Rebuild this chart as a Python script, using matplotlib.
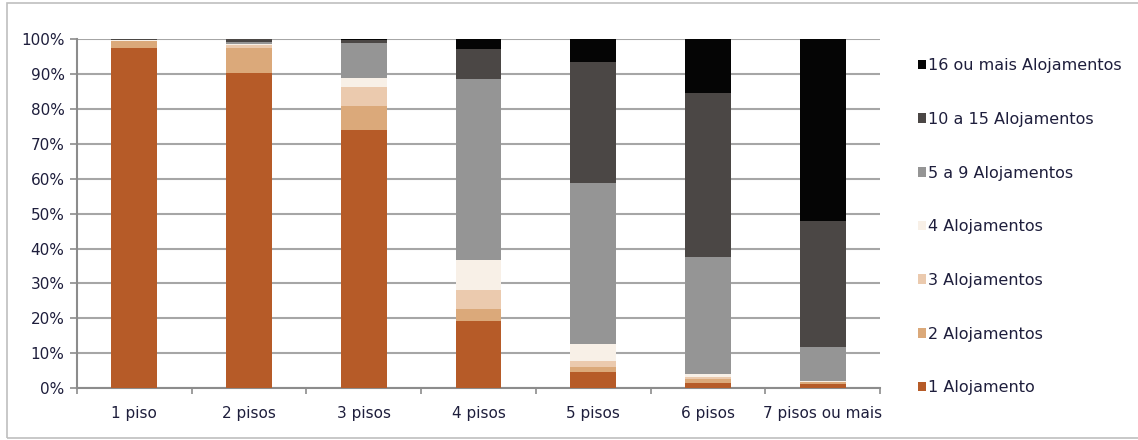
import matplotlib
matplotlib.use("Agg")
import matplotlib.pyplot as plt
import numpy as np
from matplotlib.patches import Rectangle

# share of buildings by number of dwellings, per number of floors (%)
pisos = ["1 piso", "2 pisos", "3 pisos", "4 pisos", "5 pisos", "6 pisos", "7 pisos ou mais"]
series = ["1 Alojamento", "2 Alojamentos", "3 Alojamentos", "4 Alojamentos",
          "5 a 9 Alojamentos", "10 a 15 Alojamentos", "16 ou mais Alojamentos"]

aloj_1 = [97.4, 90.3, 73.9, 19.3, 4.7, 1.5, 1.2]
aloj_2 = [2.0, 7.3, 7.0, 3.3, 1.2, 1.0, 0.4]
aloj_3 = [0.2, 0.6, 5.3, 5.5, 1.8, 0.6, 0.2]
aloj_4 = [0.1, 0.5, 2.7, 8.6, 4.8, 0.8, 0.3]
aloj_5a9 = [0.1, 0.5, 9.9, 51.8, 46.3, 33.7, 9.7]
aloj_10a15 = [0.2, 0.8, 0.9, 8.8, 34.7, 47.0, 36.1]
aloj_16 = [0.0, 0.0, 0.3, 2.7, 6.5, 15.4, 52.1]

cores = ["#B65B28", "#DBA97A", "#EBCAAE", "#F8F0E7", "#959595", "#4B4745", "#050505"]
texto = "#1E1E3C"

dados = [aloj_1, aloj_2, aloj_3, aloj_4, aloj_5a9, aloj_10a15, aloj_16]

fig = plt.figure(figsize=(11.38, 4.40), dpi=100)
ax = fig.add_axes([0.0677, 0.118, 0.7056, 0.793])

x = np.arange(len(pisos))
base = np.zeros(len(pisos))
handles = []
for nome, vals, cor in zip(series, dados, cores):
    b = ax.bar(x, vals, 0.4, bottom=base, color=cor, label=nome, zorder=3)
    handles.append(b)
    base += np.array(vals)

ax.set_xlim(-0.5, len(pisos) - 0.5)
ax.set_ylim(0, 100)
ax.set_yticks(np.arange(0, 101, 10))
ax.set_yticklabels([f"{v}%" for v in range(0, 101, 10)])
ax.yaxis.grid(True, color="#A6A6A6", linewidth=1.5, zorder=0)

ax.set_xticks(x)
ax.set_xticklabels(pisos)
ax.set_xticks(np.arange(-0.5, len(pisos)), minor=True)
ax.tick_params(axis="x", which="major", length=0, pad=13, labelsize=11, labelcolor=texto)
ax.tick_params(axis="x", which="minor", length=4, color="#8C8C8C", width=1.2)
ax.tick_params(axis="y", length=5, color="#8C8C8C", width=1.2, pad=4, labelsize=11, labelcolor=texto)

for s in ["top", "right"]:
    ax.spines[s].set_visible(False)
for s in ["left", "bottom"]:
    ax.spines[s].set_color("#8C8C8C")
    ax.spines[s].set_linewidth(1.5)

fig.legend(handles[::-1], series[::-1], loc="upper left",
           bbox_to_anchor=(0.801, 0.882), frameon=False, fontsize=11.5,
           labelcolor=texto, handlelength=0.5, handleheight=0.55,
           handletextpad=0.12, labelspacing=2.42, borderaxespad=0)

# outer frame around the whole chart
fig.patches.append(Rectangle((0.006, 0.005), 1.5, 0.988, transform=fig.transFigure,
                             fill=False, edgecolor="#BFBFBF", linewidth=1.2))

fig.savefig("out.png", dpi=100)
